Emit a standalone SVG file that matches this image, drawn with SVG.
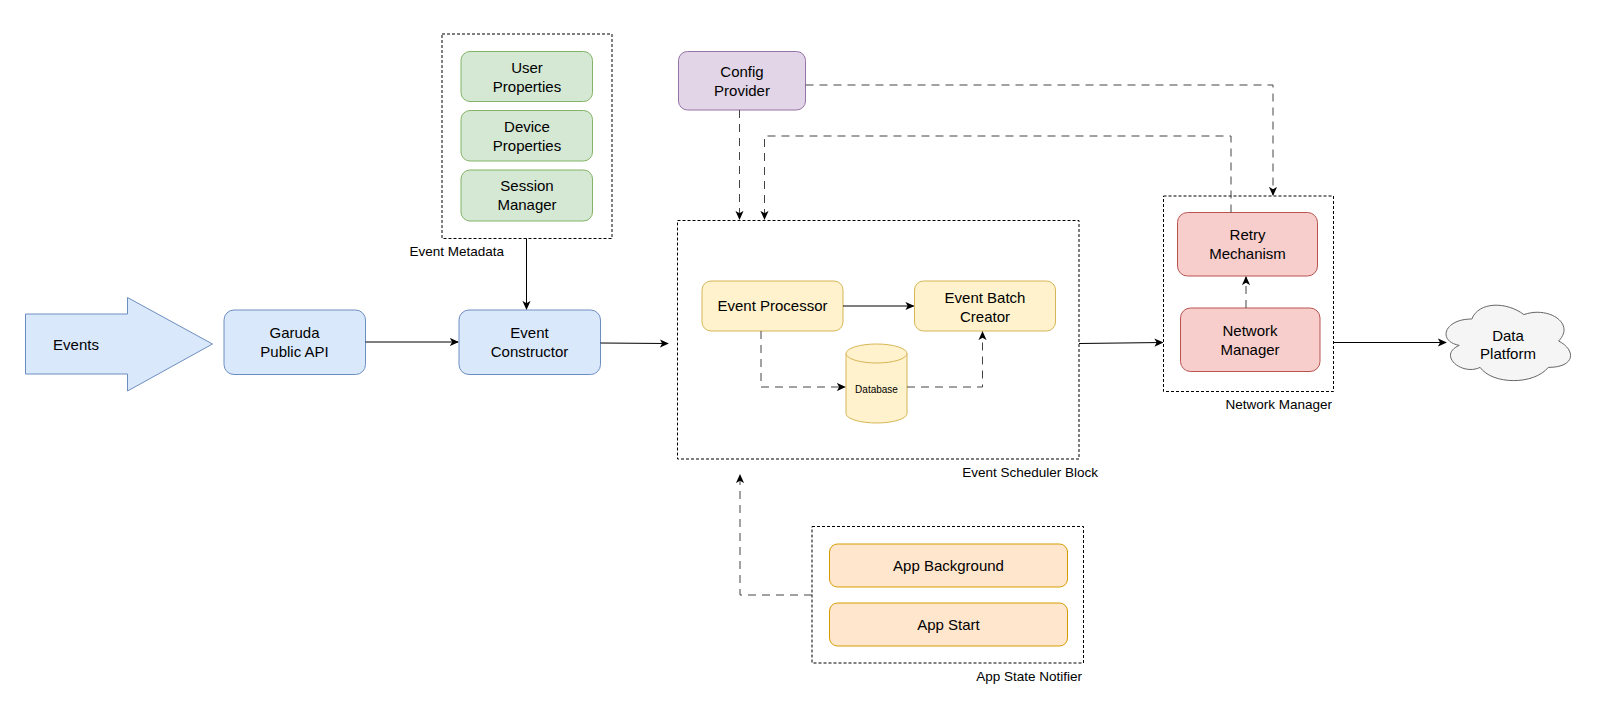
<svg xmlns="http://www.w3.org/2000/svg" width="1600" height="717" viewBox="0 0 1600 717">
<defs>
<marker id="arr" viewBox="0 0 10 10" refX="9" refY="5" markerWidth="9" markerHeight="9" markerUnits="userSpaceOnUse" orient="auto">
<path d="M0,0.5 L10,5 L0,9.5 L2.5,5 Z" fill="#000"/>
</marker>
</defs>
<style>
text{font-family:"Liberation Sans",Arial,Helvetica,sans-serif;fill:#000;}
.t{font-size:15px;text-anchor:middle;}
.lbl{font-size:13.5px;text-anchor:end;}
.db{font-size:10px;text-anchor:middle;}
.grp{fill:none;stroke:#000;stroke-width:1;stroke-dasharray:3,2;}
.blue{fill:#dae8fc;stroke:#6c8ebf;stroke-width:1;}
.green{fill:#d5e8d4;stroke:#82b366;stroke-width:1;}
.purple{fill:#e1d5e7;stroke:#9673a6;stroke-width:1;}
.yellow{fill:#fff2cc;stroke:#d6b656;stroke-width:1;}
.orange{fill:#ffe6cc;stroke:#d79b00;stroke-width:1;}
.red{fill:#f8cecc;stroke:#b85450;stroke-width:1;}
.cloud{fill:#f5f5f5;stroke:#666;stroke-width:1;}
.solid{fill:none;stroke:#000;stroke-width:1;}
.dash{fill:none;stroke:#444;stroke-width:1;stroke-dasharray:8,6;}
</style>
<rect width="1600" height="717" fill="#fff"/>

<g id="events">
<path class="blue" d="M25.5,314 L127.5,314 L127.5,297.5 L212.5,344 L127.5,391 L127.5,374 L25.5,374 Z"/>
<text class="t" x="76" y="350">Events</text>
</g>

<g id="garuda">
<rect class="blue" x="224" y="310" width="141.5" height="64.5" rx="10"/>
<text class="t" x="294.5" y="338">Garuda</text>
<text class="t" x="294.5" y="357">Public API</text>
</g>

<g id="event-constructor">
<rect class="blue" x="459" y="310" width="141.5" height="64.5" rx="10"/>
<text class="t" x="529.5" y="338">Event</text>
<text class="t" x="529.5" y="357">Constructor</text>
</g>

<g id="event-metadata">
<rect class="grp" x="442" y="34" width="170" height="204.5"/>
<text class="lbl" x="504" y="256">Event Metadata</text>
</g>
<g id="user-properties">
<rect class="green" x="461" y="51.5" width="131.5" height="50" rx="9"/>
<text class="t" x="527" y="72.5">User</text>
<text class="t" x="527" y="91.5">Properties</text>
</g>
<g id="device-properties">
<rect class="green" x="461" y="110.5" width="131.5" height="50.5" rx="9"/>
<text class="t" x="527" y="131.5">Device</text>
<text class="t" x="527" y="150.5">Properties</text>
</g>
<g id="session-manager">
<rect class="green" x="461" y="170" width="131.5" height="51" rx="9"/>
<text class="t" x="527" y="191">Session</text>
<text class="t" x="527" y="210">Manager</text>
</g>

<g id="config-provider">
<rect class="purple" x="678.5" y="51.5" width="127" height="58.5" rx="9"/>
<text class="t" x="742" y="76.5">Config</text>
<text class="t" x="742" y="95.5">Provider</text>
</g>

<g id="event-scheduler-block">
<rect class="grp" x="677.5" y="220.5" width="401.5" height="238.5"/>
<text class="lbl" x="1098" y="477">Event Scheduler Block</text>
</g>
<g id="event-processor">
<rect class="yellow" x="702" y="281" width="141" height="50" rx="9"/>
<text class="t" x="772.5" y="311">Event Processor</text>
</g>
<g id="event-batch-creator">
<rect class="yellow" x="914.5" y="281" width="141" height="50" rx="9"/>
<text class="t" x="985" y="302.5">Event Batch</text>
<text class="t" x="985" y="321.5">Creator</text>
</g>
<g id="database">
<path class="yellow" d="M846,353.5 A30.5,9.5 0 0 1 907,353.5 L907,413.5 A30.5,9.5 0 0 1 846,413.5 Z"/>
<path class="yellow" fill="none" d="M846,353.5 A30.5,9.5 0 0 0 907,353.5"/>
<text class="db" x="876.5" y="392.5">Database</text>
</g>

<g id="network-manager-group">
<rect class="grp" x="1163.5" y="196" width="170" height="195.5"/>
<text class="lbl" x="1332" y="409">Network Manager</text>
</g>
<g id="retry-mechanism">
<rect class="red" x="1177.5" y="212.5" width="140" height="63.5" rx="10"/>
<text class="t" x="1247.5" y="239.5">Retry</text>
<text class="t" x="1247.5" y="258.5">Mechanism</text>
</g>
<g id="network-manager">
<rect class="red" x="1180.5" y="308" width="139.5" height="63.5" rx="10"/>
<text class="t" x="1250" y="335.5">Network</text>
<text class="t" x="1250" y="354.5">Manager</text>
</g>

<g id="data-platform">
<path class="cloud" d="M1471.8,319 C1444,319 1437,341 1459.2,345.4 C1437,355.1 1462,376.2 1480.1,367.4 C1492.6,385 1534.3,385 1548.2,367.4 C1576,367.4 1576,349.8 1558.6,341 C1576,323.4 1548.2,305.8 1523.9,314.6 C1506.5,301.4 1478.7,301.4 1471.8,319 Z"/>
<text class="t" x="1508" y="340.5">Data</text>
<text class="t" x="1508" y="359">Platform</text>
</g>

<g id="app-state-notifier">
<rect class="grp" x="812" y="526.5" width="271.5" height="136.5"/>
<text class="lbl" x="1082" y="681">App State Notifier</text>
</g>
<g id="app-background">
<rect class="orange" x="829.5" y="544" width="238" height="43" rx="8"/>
<text class="t" x="948.5" y="571">App Background</text>
</g>
<g id="app-start">
<rect class="orange" x="829.5" y="603" width="238" height="43" rx="8"/>
<text class="t" x="948.5" y="630">App Start</text>
</g>

<g id="connectors">
<path class="solid" d="M365.5,342 L458,342" marker-end="url(#arr)"/>
<path class="solid" d="M526.5,238.5 L526.5,309" marker-end="url(#arr)"/>
<path class="solid" d="M600.5,343 L668,343.5" marker-end="url(#arr)"/>
<path class="solid" d="M1079,343.5 L1162.5,342.5" marker-end="url(#arr)"/>
<path class="solid" d="M1333.5,342.5 L1446,342.5" marker-end="url(#arr)"/>
<path class="solid" d="M843,306 L913.5,306" marker-end="url(#arr)"/>
<path class="dash" d="M761,331 L761,387 L845,387" marker-end="url(#arr)"/>
<path class="dash" d="M907,387 L982.5,387 L982.5,332" marker-end="url(#arr)"/>
<path class="dash" d="M739.5,110 L739.5,219" marker-end="url(#arr)"/>
<path class="dash" d="M805.5,85 L1273,85 L1273,195" marker-end="url(#arr)"/>
<path class="dash" d="M1231,212.5 L1231,136 L764.5,136 L764.5,219" marker-end="url(#arr)"/>
<path class="dash" d="M1246,308 L1246,277" marker-end="url(#arr)"/>
<path class="dash" d="M812,595 L740,595 L740,475" marker-end="url(#arr)"/>
</g>
</svg>
